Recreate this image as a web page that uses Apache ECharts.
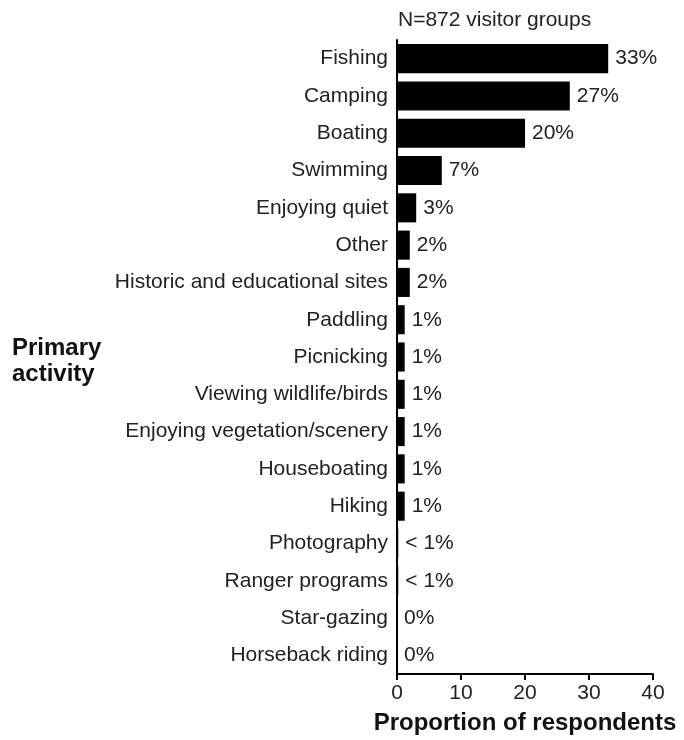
<!DOCTYPE html>
<html><head><meta charset="utf-8">
<script src="https://cdn.jsdelivr.net/npm/echarts@6/dist/echarts.min.js"></script>
<style>html,body{margin:0;padding:0;background:#fff}#c{width:684px;height:740px}</style>
</head><body><div id="c"></div>
<script>
const categories = ["Fishing","Camping","Boating","Swimming","Enjoying quiet","Other","Historic and educational sites","Paddling","Picnicking","Viewing wildlife/birds","Enjoying vegetation/scenery","Houseboating","Hiking","Photography","Ranger programs","Star-gazing","Horseback riding"];
const values = [33,27,20,7,3,2,2,1.2,1.2,1.2,1.2,1.2,1.2,0.2,0.2,0,0];
const valueLabels = ["33%","27%","20%","7%","3%","2%","2%","1%","1%","1%","1%","1%","1%","< 1%","< 1%","0%","0%"];
const xTicks = [0,10,20,30,40];

const chart = echarts.init(document.getElementById('c'));
const F = 'Liberation Sans, Arial, sans-serif';
chart.setOption({
  animation:false,
  textStyle:{fontFamily:F},
  title:{text:'N=872 visitor groups',left:393,top:5,textStyle:{fontFamily:F,fontSize:21,fontWeight:'normal',color:'#222'}},
  graphic:[{type:'text',left:12,top:335,style:{text:'Primary\nactivity',font:'bold 24px '+F,fill:'#111',lineHeight:26}}],
  grid:{left:397,top:40,right:31,bottom:65,containLabel:false},
  xAxis:{type:'value',min:0,max:40,interval:10,
    axisLine:{show:true,lineStyle:{color:'#000',width:2}},
    axisTick:{show:true,length:6,lineStyle:{color:'#000',width:2}},
    splitLine:{show:false},
    axisLabel:{color:'#222',fontSize:21,margin:9,formatter:v=>xTicks.includes(v)?String(v):''},
    name:'Proportion of respondents',nameLocation:'middle',nameGap:37,
    nameTextStyle:{fontSize:24,fontWeight:'bold',color:'#111'}},
  yAxis:{type:'category',data:categories,inverse:true,
    axisLine:{show:true,lineStyle:{color:'#000',width:2}},
    axisTick:{show:false},
    axisLabel:{color:'#222',fontSize:21,margin:9,padding:[8,0,0,0]}},
  series:[{type:'bar',data:values,barWidth:'78%',itemStyle:{color:'#000'},
    label:{show:true,position:'right',distance:7,color:'#222',fontSize:21,padding:[6,0,0,0],
      formatter:p=>valueLabels[p.dataIndex]}}]
});
</script></body></html>
